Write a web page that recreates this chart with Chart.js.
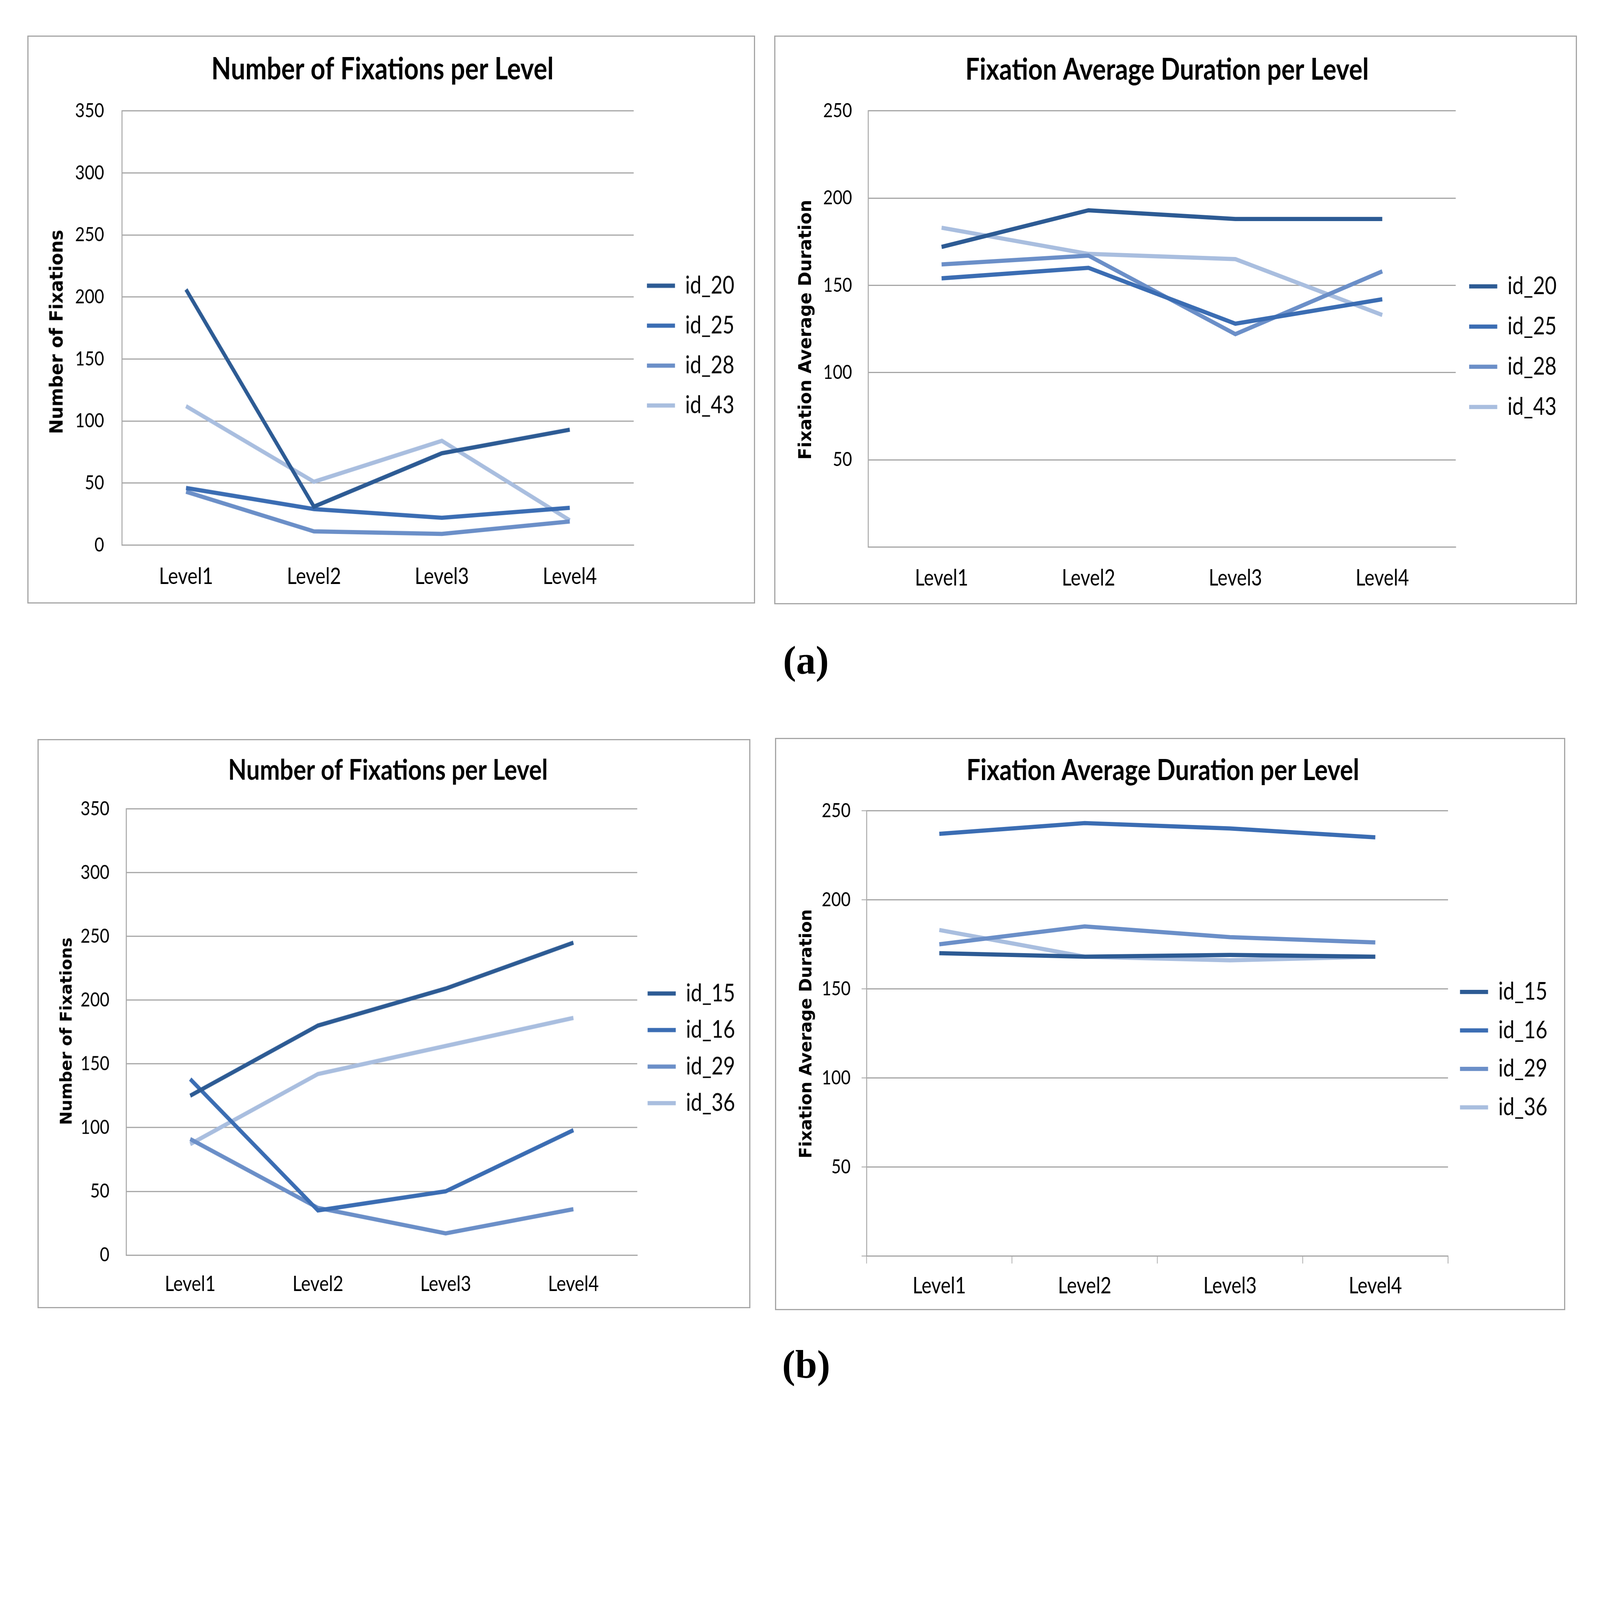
<!DOCTYPE html>
<html>
<head>
<meta charset="utf-8">
<script src="https://cdn.jsdelivr.net/npm/chart.js@4.4.0/dist/chart.umd.min.js"></script>
<style>
html, body { margin: 0; padding: 0; background: #fff; }
body { position: relative; overflow: hidden; }
canvas { position: absolute; transform-origin: 0 0; }
.frame { position: absolute; box-sizing: border-box; border-style: solid; border-color: #a6a6a6; pointer-events: none; }
.cap { position: absolute; font-family: 'Liberation Serif', 'Times New Roman', serif; font-weight: bold;
       line-height: 1; transform: translate(-50%, -50%); color: #000; }
</style>
</head>
<body>
<div class="cap" id="capA">(a)</div>
<div class="cap" id="capB">(b)</div>
<script>
var levels = ['Level1', 'Level2', 'Level3', 'Level4'];

// (a) participants
var idsA = ['id_20', 'id_25', 'id_28', 'id_43'];
var fixA_20 = [206, 31, 74, 93];
var fixA_25 = [46, 29, 22, 30];
var fixA_28 = [43, 11, 9, 19];
var fixA_43 = [112, 51, 84, 20];
var durA_20 = [172, 193, 188, 188];
var durA_25 = [154, 160, 128, 142];
var durA_28 = [162, 167, 122, 158];
var durA_43 = [183, 168, 165, 133];

// (b) participants
var idsB = ['id_15', 'id_16', 'id_29', 'id_36'];
var fixB_15 = [125, 180, 209, 245];
var fixB_16 = [138, 35, 50, 98];
var fixB_29 = [91, 37, 17, 36];
var fixB_36 = [87, 142, 164, 186];
var durB_15 = [170, 168, 169, 168];
var durB_16 = [237, 243, 240, 235];
var durB_29 = [175, 185, 179, 176];
var durB_36 = [183, 168, 166, 168];

var fixMax = 350, durMax = 250, tickStep = 50;
var blues = ['#2d5b94', '#3b6db3', '#6b8fc8', '#a9bedf'];
var grey = '#a6a6a6';

// layout is written in reference pixels and scaled to the real viewport
var s = window.innerWidth / 5694;
// Calibri-like narrow text: each chart is drawn wider and squeezed horizontally by k
var k = 0.84;
document.body.style.width = window.innerWidth + 'px';
document.body.style.height = window.innerHeight + 'px';

var FONT = "Lato, 'Open Sans', sans-serif";
var YFONT = "'DejaVu Sans', sans-serif";
var mctx = document.createElement('canvas').getContext('2d');
function textW(text, family, weight, size) {
  mctx.font = weight + ' ' + size + 'px ' + family;
  return mctx.measureText(text).width;
}
function fitSize(text, family, weight, target) {
  return 100 * target / textW(text, family, weight, 100);
}

var tickFs = fitSize('350', FONT, 'normal', 103 / k);
var legFs = fitSize('id_20', FONT, 'normal', 175 / k);

function place(el, x, y) { el.style.left = x * s + 'px'; el.style.top = y * s + 'px'; }
['capA', 'capB'].forEach(function (id) { document.getElementById(id).style.fontSize = 140 * s + 'px'; });
place(document.getElementById('capA'), 2868, 2350);
place(document.getElementById('capB'), 2869, 4856);

// vertical axis title, drawn un-squeezed so its strokes keep their weight
var axisTitle = {
  id: 'axisTitle',
  afterDraw: function (chart, args, o) {
    var ctx = chart.ctx;
    ctx.save();
    ctx.translate(o.x, o.y);
    ctx.scale(1 / k, 1);
    ctx.rotate(-Math.PI / 2);
    ctx.font = 'bold ' + o.size + 'px ' + YFONT;
    ctx.fillStyle = '#000';
    ctx.textAlign = 'center';
    ctx.textBaseline = 'middle';
    ctx.fillText(o.text, 0, 0);
    ctx.restore();
  }
};

function lineChart(p, names, series, yMax, yTitle, titleText, hideZero, tickMarks) {
  var cv = document.createElement('canvas');
  cv.style.left = p.x * s + 'px'; cv.style.top = p.y * s + 'px';
  cv.style.width = (p.w / k) * s + 'px'; cv.style.height = p.h * s + 'px';
  cv.style.transform = 'scaleX(' + k + ')';
  document.body.appendChild(cv);
  var fr = document.createElement('div');
  fr.className = 'frame';
  fr.style.left = p.x * s + 'px'; fr.style.top = p.y * s + 'px';
  fr.style.width = p.w * s + 'px'; fr.style.height = p.h * s + 'px';
  fr.style.borderWidth = 5 * s + 'px';
  document.body.appendChild(fr);

  // plot area inside the (unsqueezed) canvas, reference px
  var pl = (p.pl - p.x) / k, pr = (p.pr - p.x) / k, W = p.w / k;
  var pt = p.pt - p.y, pb = p.pb - p.y;
  var tFs = fitSize(titleText, FONT, 'bold', p.tw / k), tc = p.ty - p.y;
  var yTfs = fitSize(yTitle, YFONT, 'bold', p.yw);
  var xFs = fitSize('Level1', FONT, 'normal', p.xw / k);
  var lPad = p.sp - legFs, boxW = 100 / k;
  var lw = lPad + boxW + legFs / 2 + textW(names[0], FONT, 'normal', legFs) + 14;
  var c0 = p.ly - p.y;
  var spacer = Math.max(0, 2 * (c0 - legFs / 2) - pb + 4 * p.sp - pt - lPad);
  var xTick = tickMarks ? 27 : 0, yTick = tickMarks ? 18 / k : 0;

  var datasets = names.map(function (n, i) {
    return {
      label: n, data: series[i], borderColor: blues[i], backgroundColor: blues[i],
      borderWidth: 15 * s, pointRadius: 0, tension: 0, fill: false
    };
  });

  return new Chart(cv, {
    type: 'line',
    data: { labels: levels, datasets: datasets },
    plugins: [axisTitle],
    options: {
      responsive: false, animation: false,
      layout: { padding: { left: 0, top: 0, bottom: 0, right: (W - pr - lw) * s } },
      plugins: {
        tooltip: { enabled: false },
        axisTitle: { text: yTitle, size: yTfs * s, x: ((p.yx - p.x) / k) * s, y: (p.yy - p.y) * s },
        title: {
          display: true, text: titleText, color: '#000',
          font: { family: FONT, size: tFs * s, weight: 'bold', lineHeight: 1.2 },
          padding: { top: (tc - tFs * 0.6) * s, bottom: (pt - tc - tFs * 0.6) * s }
        },
        legend: {
          position: 'right', align: 'center', fullSize: false,
          title: { display: true, text: ' ', font: { size: 1 }, padding: { top: (spacer - 1.2) * s, bottom: 0 } },
          labels: {
            usePointStyle: true, pointStyle: 'line', pointStyleWidth: boxW * s,
            padding: lPad * s, color: '#000', font: { family: FONT, size: legFs * s }
          }
        }
      },
      scales: {
        x: {
          offset: true,
          grid: { display: tickMarks, drawOnChartArea: false, drawTicks: tickMarks, tickLength: xTick * s,
                  color: grey, lineWidth: 3 * s, offset: true },
          border: { display: true, color: grey, width: 4 * s },
          ticks: { font: { family: FONT, size: xFs * s }, color: '#000', maxRotation: 0,
                   padding: ((p.xy - p.y) - pb - xFs * 0.6 - xTick) * s },
          afterFit: function (sc) { sc.height = (p.h - pb) * s; }
        },
        y: {
          min: 0, max: yMax,
          grid: { color: grey, lineWidth: 4 * s, drawTicks: tickMarks, tickLength: yTick * s,
                  tickColor: grey, tickWidth: 3 * s },
          border: { display: true, color: grey, width: 4 * s },
          ticks: {
            stepSize: tickStep, font: { family: FONT, size: tickFs * s }, color: '#000',
            padding: (pl - (p.tr - p.x) / k - yTick) * s,
            callback: function (v) { return (hideZero && v === 0) ? '' : v; }
          },
          title: { display: false },
          afterFit: function (sc) { sc.width = pl * s; }
        }
      }
    }
  });
}

lineChart({ x: 98, y: 127, w: 2589, h: 2021, pl: 435, pt: 395, pr: 2256, pb: 1940,
            ty: 248, tw: 1218, yx: 207, yy: 1181, yw: 727, tr: 371, xy: 2052, xw: 193, ly: 1017, sp: 142 },
  idsA, [fixA_20, fixA_25, fixA_28, fixA_43], fixMax,
  'Number of Fixations', 'Number of Fixations per Level', false, false);

lineChart({ x: 2755, y: 126, w: 2857, h: 2025, pl: 3089, pt: 394, pr: 5180, pb: 1947,
            ty: 249, tw: 1435, yx: 2870, yy: 1173, yw: 925, tr: 3032, xy: 2058, xw: 190, ly: 1019, sp: 143 },
  idsA, [durA_20, durA_25, durA_28, durA_43], durMax,
  'Fixation Average Duration', 'Fixation Average Duration per Level', true, false);

lineChart({ x: 133, y: 2630, w: 2537, h: 2025, pl: 449, pt: 2878, pr: 2267, pb: 4466,
            ty: 2742, tw: 1137, yx: 239, yy: 3669, yw: 667, tr: 389, xy: 4569, xw: 181, ly: 3535, sp: 130 },
  idsB, [fixB_15, fixB_16, fixB_29, fixB_36], fixMax,
  'Number of Fixations', 'Number of Fixations per Level', false, false);

lineChart({ x: 2758, y: 2626, w: 2812, h: 2037, pl: 3084, pt: 2885, pr: 5153, pb: 4470,
            ty: 2743, tw: 1398, yx: 2872, yy: 3679, yw: 887, tr: 3027, xy: 4577, xw: 190, ly: 3530, sp: 137 },
  idsB, [durB_15, durB_16, durB_29, durB_36], durMax,
  'Fixation Average Duration', 'Fixation Average Duration per Level', true, true);
</script>
</body>
</html>
